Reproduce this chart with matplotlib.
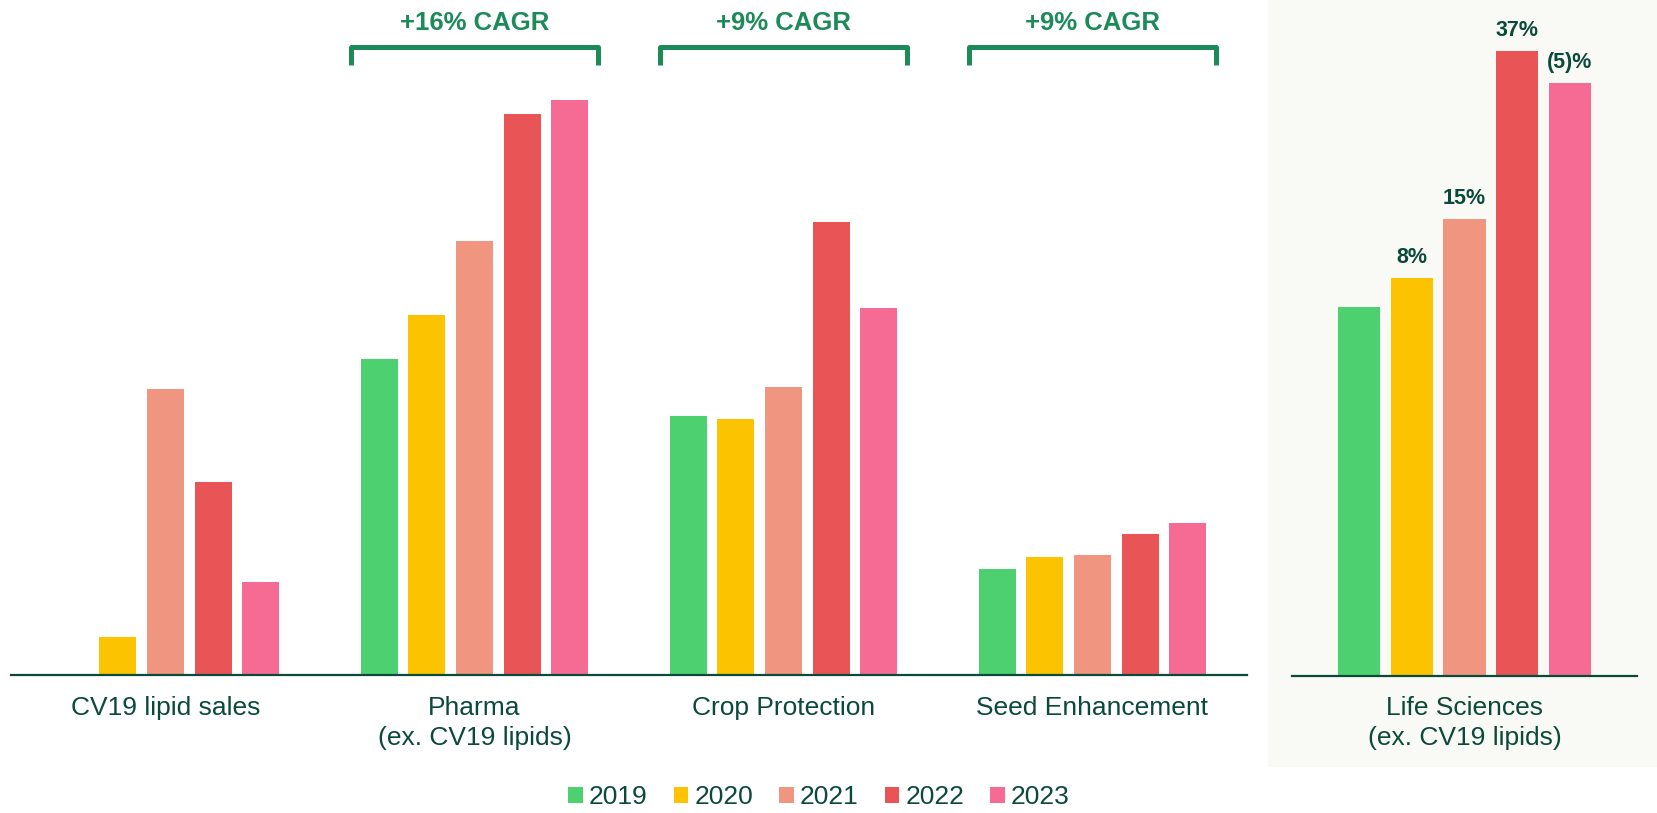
import numpy as np
import matplotlib.pyplot as plt
from matplotlib.patches import Patch, Rectangle

plt.rcParams['font.family'] = ['Liberation Sans', 'DejaVu Sans']

years = ['2019', '2020', '2021', '2022', '2023']
colors = ['#4CD070', '#FCC400', '#EF9580', '#E95557', '#F56B94']

segments = ['CV19 lipid sales', 'Pharma\n(ex. CV19 lipids)', 'Crop Protection', 'Seed Enhancement']
cv19 = [0, 38, 285, 192, 93]
pharma = [315, 359, 433, 560, 574]
crop = [258, 255, 287, 452, 366]
seed = [106, 118, 120, 141, 152]

life_label = 'Life Sciences\n(ex. CV19 lipids)'
life = [369, 398, 457, 625, 593]
life_growth = ['', '8%', '15%', '37%', '(5)%']

cagr_groups = [1, 2, 3]
cagr_text = ['+16% CAGR', '+9% CAGR', '+9% CAGR']

dark = '#0B4A3B'
green = '#1D8A5A'

W, H = 1657, 813
fig = plt.figure(figsize=(W / 100, H / 100), dpi=100)

# shaded panel on the right
fig.patches.append(Rectangle((1268 / W, (H - 767) / H), (W - 1268) / W, 767 / H,
                             transform=fig.transFigure, facecolor='#F9FAF5',
                             edgecolor='none', zorder=-1))

# left panel
ax = fig.add_axes([11 / W, (H - 674.5) / H, 1236 / W, 674.5 / H])
ax.set_facecolor('none')
data = np.array([cv19, pharma, crop, seed])
x = np.arange(len(segments))
step = 0.154
for i in range(len(years)):
    ax.bar(x + (i - 2) * step, data[:, i], width=0.12, color=colors[i], zorder=2)
ax.set_xlim(-0.5, 3.5)
ax.set_ylim(0, 674.5)

for s in ['top', 'right', 'left']:
    ax.spines[s].set_visible(False)
ax.spines['bottom'].set_color(dark)
ax.spines['bottom'].set_linewidth(1.6)
ax.set_xticks([])
ax.set_yticks([])

for xi, lab in zip(x, segments):
    ax.text(xi, -21, lab, ha='center', va='top', fontsize=19, color=dark,
            linespacing=1.35, clip_on=False)

# CAGR brackets
for g, t in zip(cagr_groups, cagr_text):
    x0, x1 = g - 0.40, g + 0.40
    ax.plot([x0, x0, x1, x1], [609, 627, 627, 609], color=green, lw=3.6,
            solid_joinstyle='round', solid_capstyle='butt', clip_on=False)
    ax.text(g, 645, t, ha='center', va='baseline', fontsize=18.5,
            fontweight='bold', color=green)

# right panel
ax2 = fig.add_axes([1292 / W, (H - 676) / H, 345 / W, 676 / H])
ax2.set_facecolor('none')
xr = np.arange(len(years)) - 2
ax2.bar(xr, life, width=0.8, color=colors, zorder=2)
ax2.set_xlim(-3.27, 3.27)
ax2.set_ylim(0, 676)
for s in ['top', 'right', 'left']:
    ax2.spines[s].set_visible(False)
ax2.spines['bottom'].set_color(dark)
ax2.spines['bottom'].set_linewidth(1.6)
ax2.set_xticks([])
ax2.set_yticks([])

for xi, v, lab in zip(xr, life, life_growth):
    if lab:
        ax2.annotate(lab, (xi, v), xytext=(0, 11), textcoords='offset points',
                     ha='center', va='baseline', fontsize=15.5,
                     fontweight='bold', color=dark)

ax2.text(0, -19.7, life_label, ha='center', va='top', fontsize=19, color=dark,
         linespacing=1.35, clip_on=False)

handles = [Patch(facecolor=c, edgecolor='none', label=y) for c, y in zip(colors, years)]
leg = fig.legend(handles=handles, loc='center', bbox_to_anchor=(819 / W, (H - 797) / H),
                 ncol=5, frameon=False, fontsize=19, handlelength=0.55,
                 handleheight=0.55, handletextpad=0.22, columnspacing=1.0)
for t in leg.get_texts():
    t.set_color(dark)

plt.savefig('out.png', dpi=100)
